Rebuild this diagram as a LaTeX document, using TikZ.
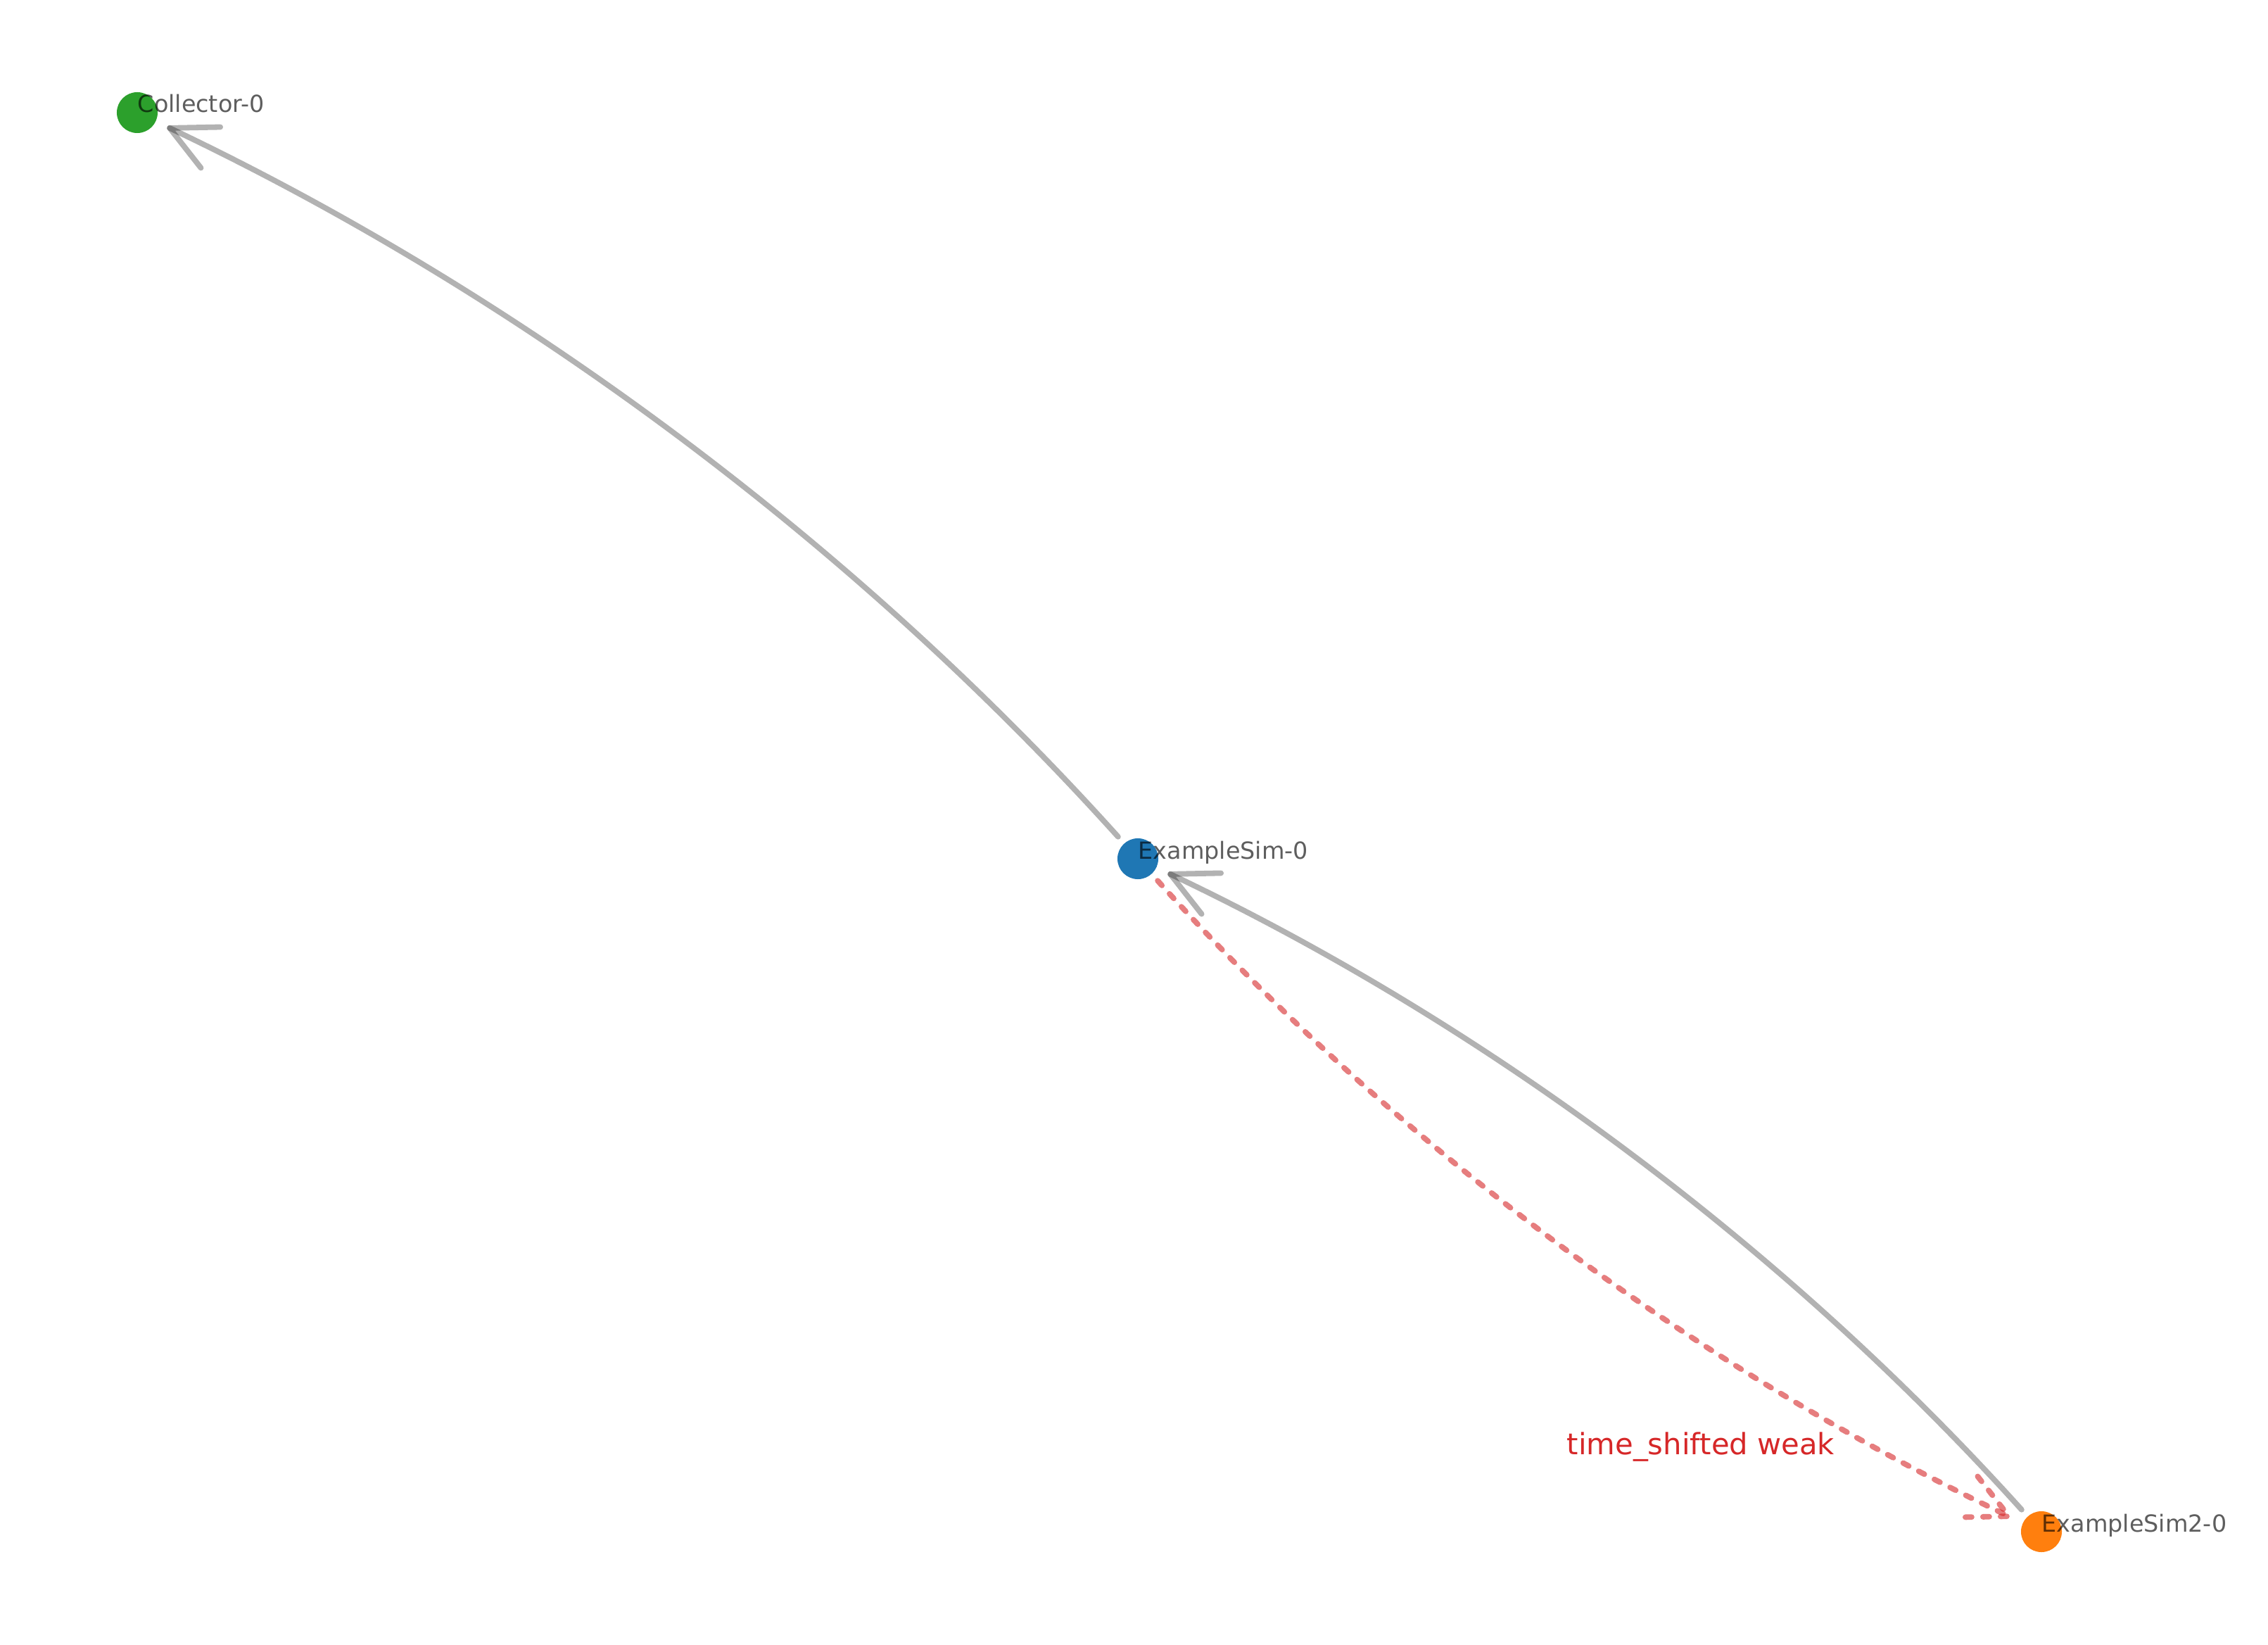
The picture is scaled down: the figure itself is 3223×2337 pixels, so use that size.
\documentclass[tikz,border=0pt]{standalone}
\usepackage{fontspec}
\setmainfont{DejaVu Sans}
\usetikzlibrary{calc}
\definecolor{tabgreen}{RGB}{44,160,44}
\definecolor{tabblue}{RGB}{31,119,180}
\definecolor{taborange}{RGB}{255,127,14}
\definecolor{tabred}{RGB}{214,39,40}
\begin{document}
\begin{tikzpicture}[x=0.01cm,y=-0.01cm,
  vertex/.style={circle,inner sep=0pt,outer sep=0pt,minimum size=0.58cm,draw=none},
  vlabel/.style={anchor=base west,inner sep=0pt,text=black,text opacity=0.63,font=\fontsize{9.5pt}{11pt}\selectfont},
  grayedge/.style={draw=black,draw opacity=0.3,line width=0.078cm,line cap=round,line join=round},
  rededge/.style={draw=tabred,draw opacity=0.6,line width=0.078cm,line cap=round,line join=round,dash pattern=on 0.09cm off 0.16cm},
  elabel/.style={anchor=base west,inner sep=0pt,text=tabred,font=\fontsize{11.87pt}{14pt}\selectfont}]
\useasboundingbox (0,0) rectangle (3223,2337);
\fill[white] (0,0) rectangle (3223,2337);
% nodes
\node[vertex,fill=tabgreen] (C) at (195,160) {};
\node[vertex,fill=tabblue] (A) at (1617,1220) {};
\node[vertex,fill=taborange] (B) at (2901,2176) {};
% control points (arc3, rad 0.1)
\coordinate (qAC) at (1012,548);
\coordinate (qBA) at (2354.6,1569.6);
\coordinate (qAB) at (2163.4,1826.4);
% ExampleSim-0 -> Collector-0
\draw[grayedge,shorten <=0.13cm,shorten >=0.22cm] (A) .. controls (1213.7,772) and (739.7,418.7) .. (C);
\coordinate (tAC) at ($(C)!0.51cm!(qAC)$);
\draw[grayedge] ($(tAC)!0.72cm!26.5:(qAC)$) -- (tAC) -- ($(tAC)!0.72cm!-26.5:(qAC)$);
% ExampleSim2-0 -> ExampleSim-0
\draw[grayedge,shorten <=0.13cm,shorten >=0.22cm] (B) .. controls (2536.7,1771.7) and (2108.7,1453.1) .. (A);
\coordinate (tBA) at ($(A)!0.51cm!(qBA)$);
\draw[grayedge] ($(tBA)!0.72cm!26.5:(qBA)$) -- (tBA) -- ($(tBA)!0.72cm!-26.5:(qBA)$);
% ExampleSim-0 -> ExampleSim2-0 (time shifted, weak)
\draw[rededge,shorten <=0.13cm,shorten >=0.22cm] (A) .. controls (1981.3,1624.3) and (2409.3,1942.9) .. (B);
\coordinate (tAB) at ($(B)!0.51cm!(qAB)$);
\draw[rededge] ($(tAB)!0.72cm!-26.5:(qAB)$) -- (tAB) -- ($(tAB)!0.72cm!26.5:(qAB)$);
% labels
\node[vlabel] (Cl) at (C.center) {Collector-0};
\node[vlabel] (Al) at (A.center) {ExampleSim-0};
\node[vlabel] (Bl) at (B.center) {ExampleSim2-0};
\node[elabel] (ABl) at (2226,2066) {time\_shifted weak};
\end{tikzpicture}
\end{document}
